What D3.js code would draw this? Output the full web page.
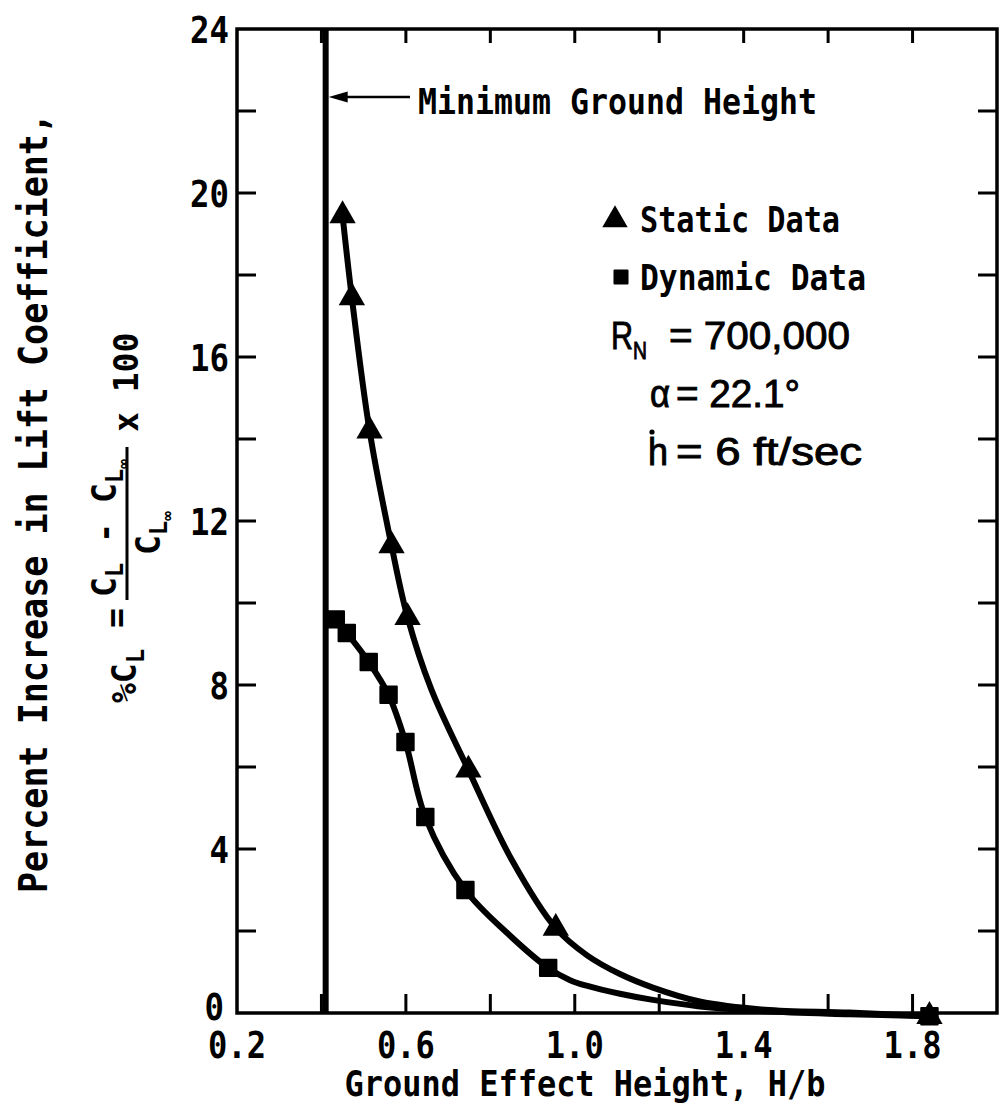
<!DOCTYPE html>
<html><head><meta charset="utf-8">
<script src="https://cdn.jsdelivr.net/npm/d3@7"></script>
<style>body{margin:0;background:#fff}svg{display:block}</style>
</head><body><svg id="c" width="1006" height="1111"></svg>
<script>
// ---------- data ----------
const xTickValues = [0.2,0.4,0.6,0.8,1.0,1.2,1.4,1.6,1.8,2.0];
const xTickLabels = ["0.2","0.6","1.0","1.4","1.8"];
const yTickValues = [0,2,4,6,8,10,12,14,16,18,20,22,24];
const yTickLabels = ["0","4","8","12","16","20","24"];

const staticH  = [0.450,0.472,0.514,0.566,0.604,0.748,0.955,1.840];
const staticCL = [19.45,17.45,14.2,11.4,9.65,5.93,2.07,-0.08];
const dynamicH  = [0.434,0.460,0.512,0.559,0.599,0.646,0.741,0.937,1.840];
const dynamicCL = [9.6,9.27,8.56,7.76,6.61,4.78,3.0,1.10,-0.08];

// extra points (between the markers)
const staticFairH  = [0.66,0.85,1.03,1.107,1.185,1.296,1.45,1.65];
const staticFairCL = [7.9,3.75,1.4,0.95,0.62,0.28,0.08,0.01];
const dynamicFairH  = [0.84,0.989,1.03,1.107,1.185,1.296,1.45,1.65];
const dynamicFairCL = [1.95,0.8,0.66,0.47,0.32,0.16,0.04,-0.03];

const minGroundHeight = 0.41;
const legendItems = ["Static Data","Dynamic Data"];

// ---------- chart ----------
const svg = d3.select("#c");
const x = d3.scaleLinear().domain([0.2,2.0]).range([237,997]);
const y = d3.scaleLinear().domain([0,24]).range([1013,29]);
const MONO = "'DejaVu Sans Mono', monospace";
const SANS = "'Liberation Sans', Arial, sans-serif";
const INK = "#000";

function fit(sel, w){ return sel.attr("textLength", w).attr("lengthAdjust","spacingAndGlyphs"); }

// frame
svg.append("rect").attr("x",x(0.2)).attr("y",y(24))
  .attr("width",x(2.0)-x(0.2)).attr("height",y(0)-y(24))
  .attr("fill","none").attr("stroke",INK).attr("stroke-width",3.5);

// ticks (inward) on all four sides
const TL = 19;
const tk = svg.append("g").attr("stroke",INK).attr("stroke-width",3);
yTickValues.filter(v=>v>0&&v<24).forEach(v=>{
  tk.append("line").attr("x1",x(0.2)).attr("x2",x(0.2)+TL).attr("y1",y(v)).attr("y2",y(v));
  tk.append("line").attr("x1",x(2.0)).attr("x2",x(2.0)-TL).attr("y1",y(v)).attr("y2",y(v));
});
xTickValues.filter(v=>v>0.2&&v<2.0).forEach(v=>{
  tk.append("line").attr("x1",x(v)).attr("x2",x(v)).attr("y1",y(0)).attr("y2",y(0)-TL);
  tk.append("line").attr("x1",x(v)).attr("x2",x(v)).attr("y1",y(24)).attr("y2",y(24)+14);
});

// tick labels
yTickLabels.forEach(s=>{
  const t = svg.append("text").attr("x",s==="0"?224:229).attr("y",y(+s)+ (s==="0"?7:14))
    .attr("text-anchor","end").attr("font-family",MONO).attr("font-weight","bold")
    .attr("font-size",37).attr("fill",INK).text(s);
  fit(t, s.length*19.5);
});
xTickLabels.forEach(s=>{
  const t = svg.append("text").attr("x",x(+s)).attr("y",1058)
    .attr("text-anchor","middle").attr("font-family",MONO).attr("font-weight","bold")
    .attr("font-size",37).attr("fill",INK).text(s);
  fit(t, 58);
});

// x-axis title
fit(svg.append("text").attr("x",585).attr("y",1096).attr("text-anchor","middle")
  .attr("font-family",MONO).attr("font-weight","bold").attr("font-size",36).attr("fill",INK)
  .text("Ground Effect Height, H/b"), 481);

// y-axis title (rotated)
const yt = svg.append("g").attr("transform","rotate(-90)");
fit(yt.append("text").attr("x",-503).attr("y",47).attr("text-anchor","middle")
  .attr("font-family",MONO).attr("font-weight","bold").attr("font-size",39).attr("fill",INK)
  .text("Percent Increase in Lift Coefficient,"), 780);

// formula line: %C_L = (C_L - C_L∞)/C_L∞ x 100
const FS = 33;
function ftext(u, v, parts, anchor){
  const t = yt.append("text").attr("x",-u).attr("y",v).attr("text-anchor",anchor||"start")
    .attr("font-family",MONO).attr("font-weight","bold").attr("font-size",FS).attr("fill",INK);
  parts.forEach(p=>{
    t.append("tspan").attr("dy",p.dy||0).attr("font-size",p.fs||FS).text(p.s);
  });
  return t;
}
ftext(703, 136, [{s:"%C"},{s:"L",fs:24,dy:8}]);
ftext(628, 128, [{s:"="}]);
// fraction bar
yt.append("line").attr("x1",-600).attr("x2",-447).attr("y1",127).attr("y2",127)
  .attr("stroke",INK).attr("stroke-width",3);
ftext(597, 116, [{s:"C"},{s:"L",fs:24,dy:7},{s:" - C",dy:-7},{s:"L",fs:24,dy:7},{s:"\u221e",fs:16,dy:6}]);
ftext(555, 160, [{s:"C"},{s:"L",fs:24,dy:7},{s:"\u221e",fs:16,dy:6}]);
ftext(432, 138, [{s:"x 100"}]);

// minimum ground height line + annotation
svg.append("line").attr("x1",x(minGroundHeight)).attr("x2",x(minGroundHeight))
  .attr("y1",y(0)).attr("y2",y(24)).attr("stroke",INK).attr("stroke-width",6);
svg.append("line").attr("x1",x(minGroundHeight)+10).attr("x2",410).attr("y1",97).attr("y2",97)
  .attr("stroke",INK).attr("stroke-width",2.5);
svg.append("path").attr("d",`M${x(minGroundHeight)+3},97 L${x(minGroundHeight)+22},91.5 L${x(minGroundHeight)+22},102.5 Z`).attr("fill",INK);
fit(svg.append("text").attr("x",418).attr("y",114).attr("font-family",MONO).attr("font-weight","bold")
  .attr("font-size",35).attr("fill",INK).text("Minimum Ground Height"), 399);

// curves
const line = d3.line().x(d=>x(d[0])).y(d=>y(d[1])).curve(d3.curveCatmullRom.alpha(0.5));
function merge(a,b,c,d){ return a.map((h,i)=>[h,b[i]]).concat(c.map((h,i)=>[h,d[i]])).sort((p,q)=>p[0]-q[0]); }
const staticPts = merge(staticH,staticCL,staticFairH,staticFairCL);
const dynamicPts = merge(dynamicH,dynamicCL,dynamicFairH,dynamicFairCL);
svg.append("path").attr("d",line(staticPts)).attr("fill","none").attr("stroke",INK).attr("stroke-width",6);
svg.append("path").attr("d",line(dynamicPts)).attr("fill","none").attr("stroke",INK).attr("stroke-width",6);

// markers
const tri = d3.symbol(d3.symbolTriangle, 300);
const sq = d3.symbol(d3.symbolSquare, 270);
staticH.forEach((h,i)=>svg.append("path").attr("d",tri()).attr("fill",INK)
  .attr("transform",`translate(${x(h)},${y(staticCL[i])})`));
dynamicH.forEach((h,i)=>svg.append("path").attr("d",sq()).attr("fill",INK)
  .attr("stroke",INK).attr("stroke-width",2).attr("stroke-linejoin","round")
  .attr("transform",`translate(${x(h)},${y(dynamicCL[i])})`));

// legend
svg.append("path").attr("d",d3.symbol(d3.symbolTriangle,280)()).attr("fill",INK).attr("transform","translate(615,220)");
svg.append("path").attr("d",d3.symbol(d3.symbolSquare,170)()).attr("fill",INK)
  .attr("stroke",INK).attr("stroke-width",2).attr("stroke-linejoin","round").attr("transform","translate(621,277)");
fit(svg.append("text").attr("x",640).attr("y",232).attr("font-family",MONO).attr("font-weight","bold")
  .attr("font-size",36).attr("fill",INK).text(legendItems[0]), 200);
fit(svg.append("text").attr("x",640).attr("y",290).attr("font-family",MONO).attr("font-weight","bold")
  .attr("font-size",36).attr("fill",INK).text(legendItems[1]), 226);

function ptext(xx, yy, s, w, fs){
  const t = svg.append("text").attr("x",xx).attr("y",yy).attr("font-family",SANS)
    .attr("font-size",fs||38).attr("fill",INK).attr("stroke",INK).attr("stroke-width",0.9).text(s);
  if (w) fit(t, w);
  return t;
}
// R with subscript N as one text element
const rn = svg.append("text").attr("x",611).attr("y",349).attr("font-family",SANS)
  .attr("font-size",38).attr("fill",INK).attr("stroke",INK).attr("stroke-width",0.9);
rn.append("tspan").text("R");
rn.append("tspan").attr("dy",10).attr("font-size",24).text("N");
fit(rn, 36);
ptext(669, 349, "= 700,000", 181);
ptext(650, 407, "\u03b1", 20);
ptext(676, 407, "= 22.1\u00b0", 124);
ptext(648, 465, "h", 20);
svg.append("circle").attr("cx",652).attr("cy",432).attr("r",2.6).attr("fill",INK);
ptext(676, 465, "= 6 ft/sec", 186);
</script></body></html>
